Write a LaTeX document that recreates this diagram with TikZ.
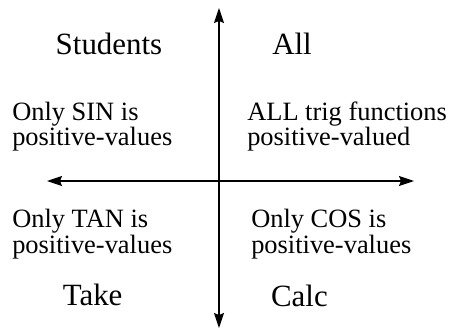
\documentclass[tikz,border=0pt]{standalone}
\usepackage{fontspec}
\setmainfont{Liberation Serif}
\usetikzlibrary{arrows.meta}

\begin{document}
\begin{tikzpicture}
				
				% Stile für Achsen und Beschriftungen
				\tikzset{
					achse/.style={line width=0.8pt, -{Stealth[length=0.375cm, width=0.25cm, inset=0.05cm]}},
					quadrant/.style={font=\fontsize{22pt}{26pt}\selectfont, inner sep=0pt},
					hinweis/.style={font=\fontsize{18.8pt}{17.1pt}\selectfont, align=left, inner sep=0pt, anchor=base west}
				}
				
				% Rahmen
				\useasboundingbox (-5.475,-3.725) rectangle (5.75,4.525);
				
				% Achsenenden
				\coordinate (oben) at (0,4.325);
				\coordinate (unten) at (0,-3.675);
				\coordinate (links) at (-4.3,0);
				\coordinate (rechts) at (4.875,0);
				\coordinate (mitte) at (0,0);
				
				% Achsen
				\draw[achse] (mitte) -- (oben);
				\draw[achse] (mitte) -- (unten);
				\draw[achse] (mitte) -- (links);
				\draw[achse] (mitte) -- (rechts);
				
				% Merkwörter
				\node[quadrant, anchor=base] (students) at (-2.75,3.175) {Students};
				\node[quadrant, anchor=base west] (all) at (1.325,3.175) {All};
				\node[quadrant, anchor=base] (take) at (-3.16,-3.1) {Take};
				\node[quadrant, anchor=base] (calc) at (2.01,-3.14) {Calc};
				
				% Vorzeichen der Winkelfunktionen (Anker = Grundlinie der zweiten Zeile)
				\node[hinweis] (sin) at (-5.175,0.88) {Only SIN is\\positive-values};
				\node[hinweis] (alle) at (0.7,0.88) {ALL trig functions\\positive-valued};
				\node[hinweis] (tan) at (-5.175,-1.8) {Only TAN is\\positive-values};
				\node[hinweis] (cos) at (0.8,-1.8) {Only COS is\\positive-values};
				
\end{tikzpicture}
\end{document}
